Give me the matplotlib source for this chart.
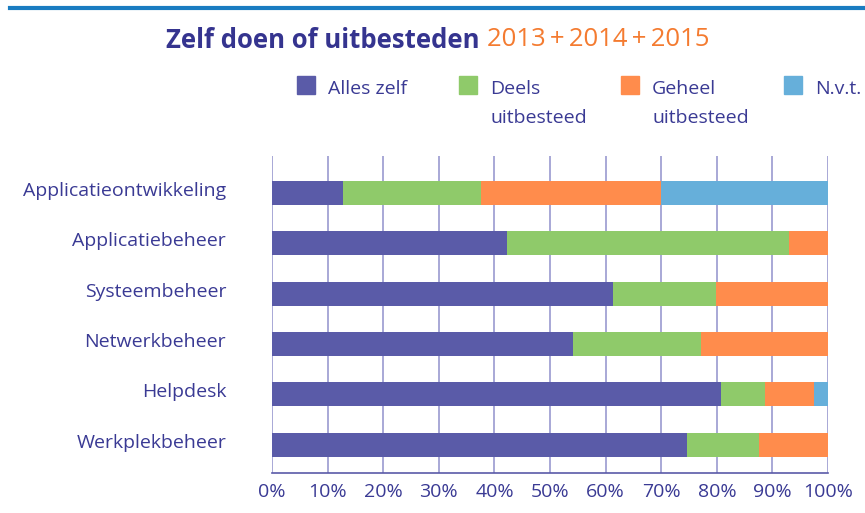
import matplotlib
matplotlib.use("Agg")
import matplotlib.pyplot as plt
from matplotlib.patches import Rectangle
from matplotlib.lines import Line2D
from matplotlib.transforms import ScaledTranslation
import numpy as np

plt.rcParams["font.family"] = ["Open Sans", "DejaVu Sans"]

categories = ["Applicatieontwikkeling", "Applicatiebeheer", "Systeembeheer",
              "Netwerkbeheer", "Helpdesk", "Werkplekbeheer"]
alles_zelf = [12.8, 42.2, 61.4, 54.2, 80.8, 74.7]
deels = [24.8, 50.7, 18.4, 22.9, 7.8, 12.9]
geheel = [32.3, 7.1, 20.2, 22.9, 8.9, 12.4]
nvt = [30.1, 0.0, 0.0, 0.0, 2.5, 0.0]
series_labels = ["Alles zelf", "Deels\nuitbesteed", "Geheel\nuitbesteed", "N.v.t."]
xticks = np.arange(0, 101, 10)

COLORS = ["#5a5ba8", "#8fca6a", "#ff8c4c", "#66afda"]
TEXT = "#3a3a94"
GRID = "#9a9ad0"
FS = 14

fig = plt.figure(figsize=(8.65, 5.13), dpi=100)
ax = fig.add_axes([0.3145, 0.078, 0.6428, 0.618])

y = np.arange(len(categories))
left = np.zeros(len(categories))
for vals, col in zip([alles_zelf, deels, geheel, nvt], COLORS):
    ax.barh(y, vals, left=left, height=0.476, color=col, zorder=3)
    left += np.array(vals)

ax.set_xlim(0, 100)
ax.set_ylim(5.56, -0.73)
ax.set_yticks(y)
ax.set_yticklabels(categories, fontsize=FS, color=TEXT)
ax.set_xticks(xticks)
ax.set_xticklabels([f"{v}%" for v in xticks], fontsize=FS, color=TEXT)
ax.tick_params(length=0, pad=7)
ax.tick_params(axis="y", pad=33)
# category labels sit a little above the bar centre in the original
shift = ScaledTranslation(0, 0.04, fig.dpi_scale_trans)
for lab in ax.get_yticklabels():
    lab.set_transform(lab.get_transform() + shift)
ax.grid(True, axis="x", color=GRID, lw=1.2, zorder=0)
for s in ["top", "right", "left"]:
    ax.spines[s].set_visible(False)
ax.spines["bottom"].set_color("#5a5aa8")
ax.spines["bottom"].set_linewidth(1.2)

# blue rule at the top
fig.add_artist(Line2D([10 / 865, 1.0], [1 - 8 / 513, 1 - 8 / 513],
                      color="#1a7cc1", lw=3))

# two-coloured title
fig.text(480 / 865, 1 - 40 / 513, "Zelf doen of uitbesteden", ha="right",
         va="center", fontsize=18.5, fontweight="bold", color="#35348f")
fig.text(487 / 865, 1 - 40 / 513, "2013\u2009+\u20092014\u2009+\u20092015",
         ha="left", va="center", fontsize=18.5, color="#f47b30")

# legend (one text per line so each baseline is placed exactly)
for xs, lab, col in zip([297, 459, 621, 784], series_labels, COLORS):
    fig.add_artist(Rectangle((xs / 865, 1 - 94 / 513), 18 / 865, 18 / 513,
                             color=col, transform=fig.transFigure))
    for i, line in enumerate(lab.split("\n")):
        fig.text((xs + 31) / 865, 1 - (94 + 29 * i) / 513, line, ha="left",
                 va="baseline", fontsize=FS, color=TEXT)

fig.savefig("out.png", dpi=100)
